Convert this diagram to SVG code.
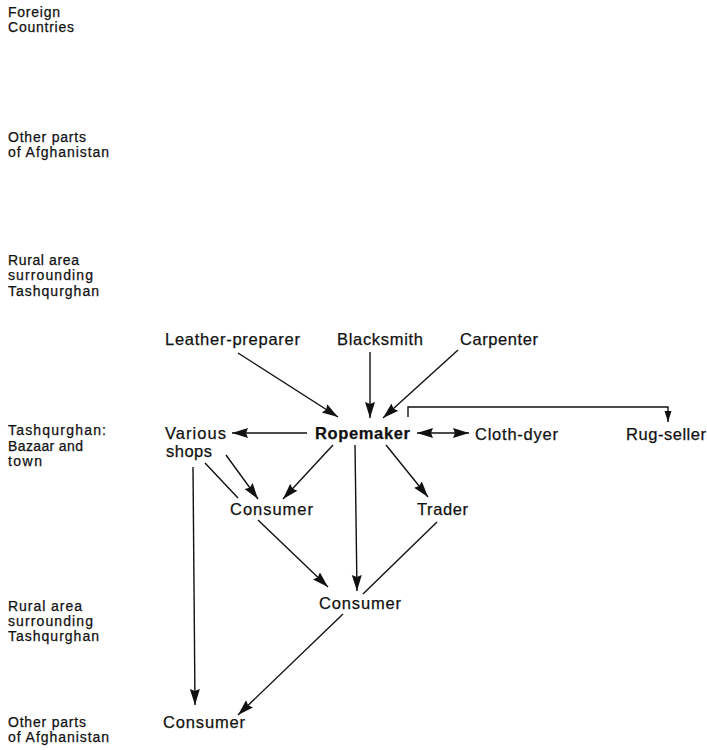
<svg xmlns="http://www.w3.org/2000/svg" width="707" height="750" viewBox="0 0 707 750">
  <style>
    text { font-family: "Liberation Sans", Arial, sans-serif; fill: #111; stroke: #111; stroke-width: 0.25; }
    .zone { font-size: 14px; }
    .node { font-size: 16.5px; }
    .bold { font-weight: bold; }
    .link { stroke: #111; stroke-width: 1.4; fill: none; }
    .arrow { marker-end: url(#head); }
    .thin { marker-end: url(#headSmall); }
  </style>
  <defs>
    <marker id="head" markerUnits="userSpaceOnUse" markerWidth="18" markerHeight="11" refX="16" refY="5" orient="auto-start-reverse">
      <path d="M0,0 L16,5 L0,10 L2,5 z" fill="#111"/>
    </marker>
    <marker id="headSmall" markerUnits="userSpaceOnUse" markerWidth="12" markerHeight="8" refX="11" refY="3.5" orient="auto">
      <path d="M0,0 L11,3.5 L0,7 z" fill="#111"/>
    </marker>
  </defs>
  <rect width="707" height="750" fill="#fff"/>

  <!-- zone labels on the left -->
  <g id="zones">
    <text class="zone" x="8" y="17" textLength="52" lengthAdjust="spacing">Foreign</text>
    <text class="zone" x="8" y="32" textLength="66" lengthAdjust="spacing">Countries</text>
    <text class="zone" x="8" y="142" textLength="78" lengthAdjust="spacing">Other parts</text>
    <text class="zone" x="8" y="157" textLength="101" lengthAdjust="spacing">of Afghanistan</text>
    <text class="zone" x="8" y="265" textLength="71" lengthAdjust="spacing">Rural area</text>
    <text class="zone" x="8" y="280" textLength="85" lengthAdjust="spacing">surrounding</text>
    <text class="zone" x="8" y="296" textLength="91" lengthAdjust="spacing">Tashqurghan</text>
    <text class="zone" x="8" y="435" textLength="98" lengthAdjust="spacing">Tashqurghan:</text>
    <text class="zone" x="8" y="451" textLength="75" lengthAdjust="spacing">Bazaar and</text>
    <text class="zone" x="8" y="466" textLength="34" lengthAdjust="spacing">town</text>
    <text class="zone" x="8" y="611" textLength="74" lengthAdjust="spacing">Rural area</text>
    <text class="zone" x="8" y="626" textLength="85" lengthAdjust="spacing">surrounding</text>
    <text class="zone" x="8" y="641" textLength="91" lengthAdjust="spacing">Tashqurghan</text>
    <text class="zone" x="8" y="727" textLength="78" lengthAdjust="spacing">Other parts</text>
    <text class="zone" x="8" y="742" textLength="101" lengthAdjust="spacing">of Afghanistan</text>
  </g>

  <!-- nodes -->
  <g id="leather-preparer"><text class="node" x="165" y="345" textLength="135" lengthAdjust="spacing">Leather-preparer</text></g>
  <g id="blacksmith"><text class="node" x="337" y="345" textLength="86" lengthAdjust="spacing">Blacksmith</text></g>
  <g id="carpenter"><text class="node" x="460" y="345" textLength="78" lengthAdjust="spacing">Carpenter</text></g>
  <g id="various-shops">
    <text class="node" x="165" y="439" textLength="61" lengthAdjust="spacing">Various</text>
    <text class="node" x="166" y="457" textLength="46" lengthAdjust="spacing">shops</text>
  </g>
  <g id="ropemaker"><text class="node bold" x="315" y="439" textLength="95" lengthAdjust="spacing">Ropemaker</text></g>
  <g id="cloth-dyer"><text class="node" x="475" y="440" textLength="83" lengthAdjust="spacing">Cloth-dyer</text></g>
  <g id="rug-seller"><text class="node" x="626" y="440" textLength="80" lengthAdjust="spacing">Rug-seller</text></g>
  <g id="consumer-bazaar"><text class="node" x="230" y="515" textLength="83" lengthAdjust="spacing">Consumer</text></g>
  <g id="trader"><text class="node" x="417" y="515" textLength="51" lengthAdjust="spacing">Trader</text></g>
  <g id="consumer-rural"><text class="node" x="319" y="609" textLength="82" lengthAdjust="spacing">Consumer</text></g>
  <g id="consumer-afghanistan"><text class="node" x="163" y="728" textLength="82" lengthAdjust="spacing">Consumer</text></g>

  <!-- connectors -->
  <g id="connectors">
    <line class="link arrow" x1="238" y1="353" x2="338" y2="417"/>
    <line class="link arrow" x1="370" y1="352" x2="370" y2="418"/>
    <line class="link arrow" x1="458" y1="350" x2="383" y2="418"/>
    <polyline class="link thin" points="408,417 408,407 668,407 668,422" stroke-width="1.2"/>
    <line class="link arrow" x1="307" y1="433" x2="232" y2="433"/>
    <line class="link arrow" x1="417" y1="433" x2="469" y2="433" style="marker-start:url(#head)"/>
    <line class="link arrow" x1="333" y1="445" x2="283" y2="499"/>
    <line class="link arrow" x1="355" y1="445" x2="357" y2="591"/>
    <line class="link arrow" x1="386" y1="445" x2="428" y2="497"/>
    <line class="link arrow" x1="226" y1="455" x2="258" y2="499"/>
    <line class="link" x1="205" y1="463" x2="238" y2="498"/>
    <line class="link arrow" x1="193" y1="467" x2="195" y2="705"/>
    <line class="link arrow" x1="258" y1="520" x2="328" y2="587"/>
    <line class="link" x1="437" y1="522" x2="363" y2="594"/>
    <line class="link arrow" x1="343" y1="614" x2="238" y2="715"/>
  </g>
</svg>
